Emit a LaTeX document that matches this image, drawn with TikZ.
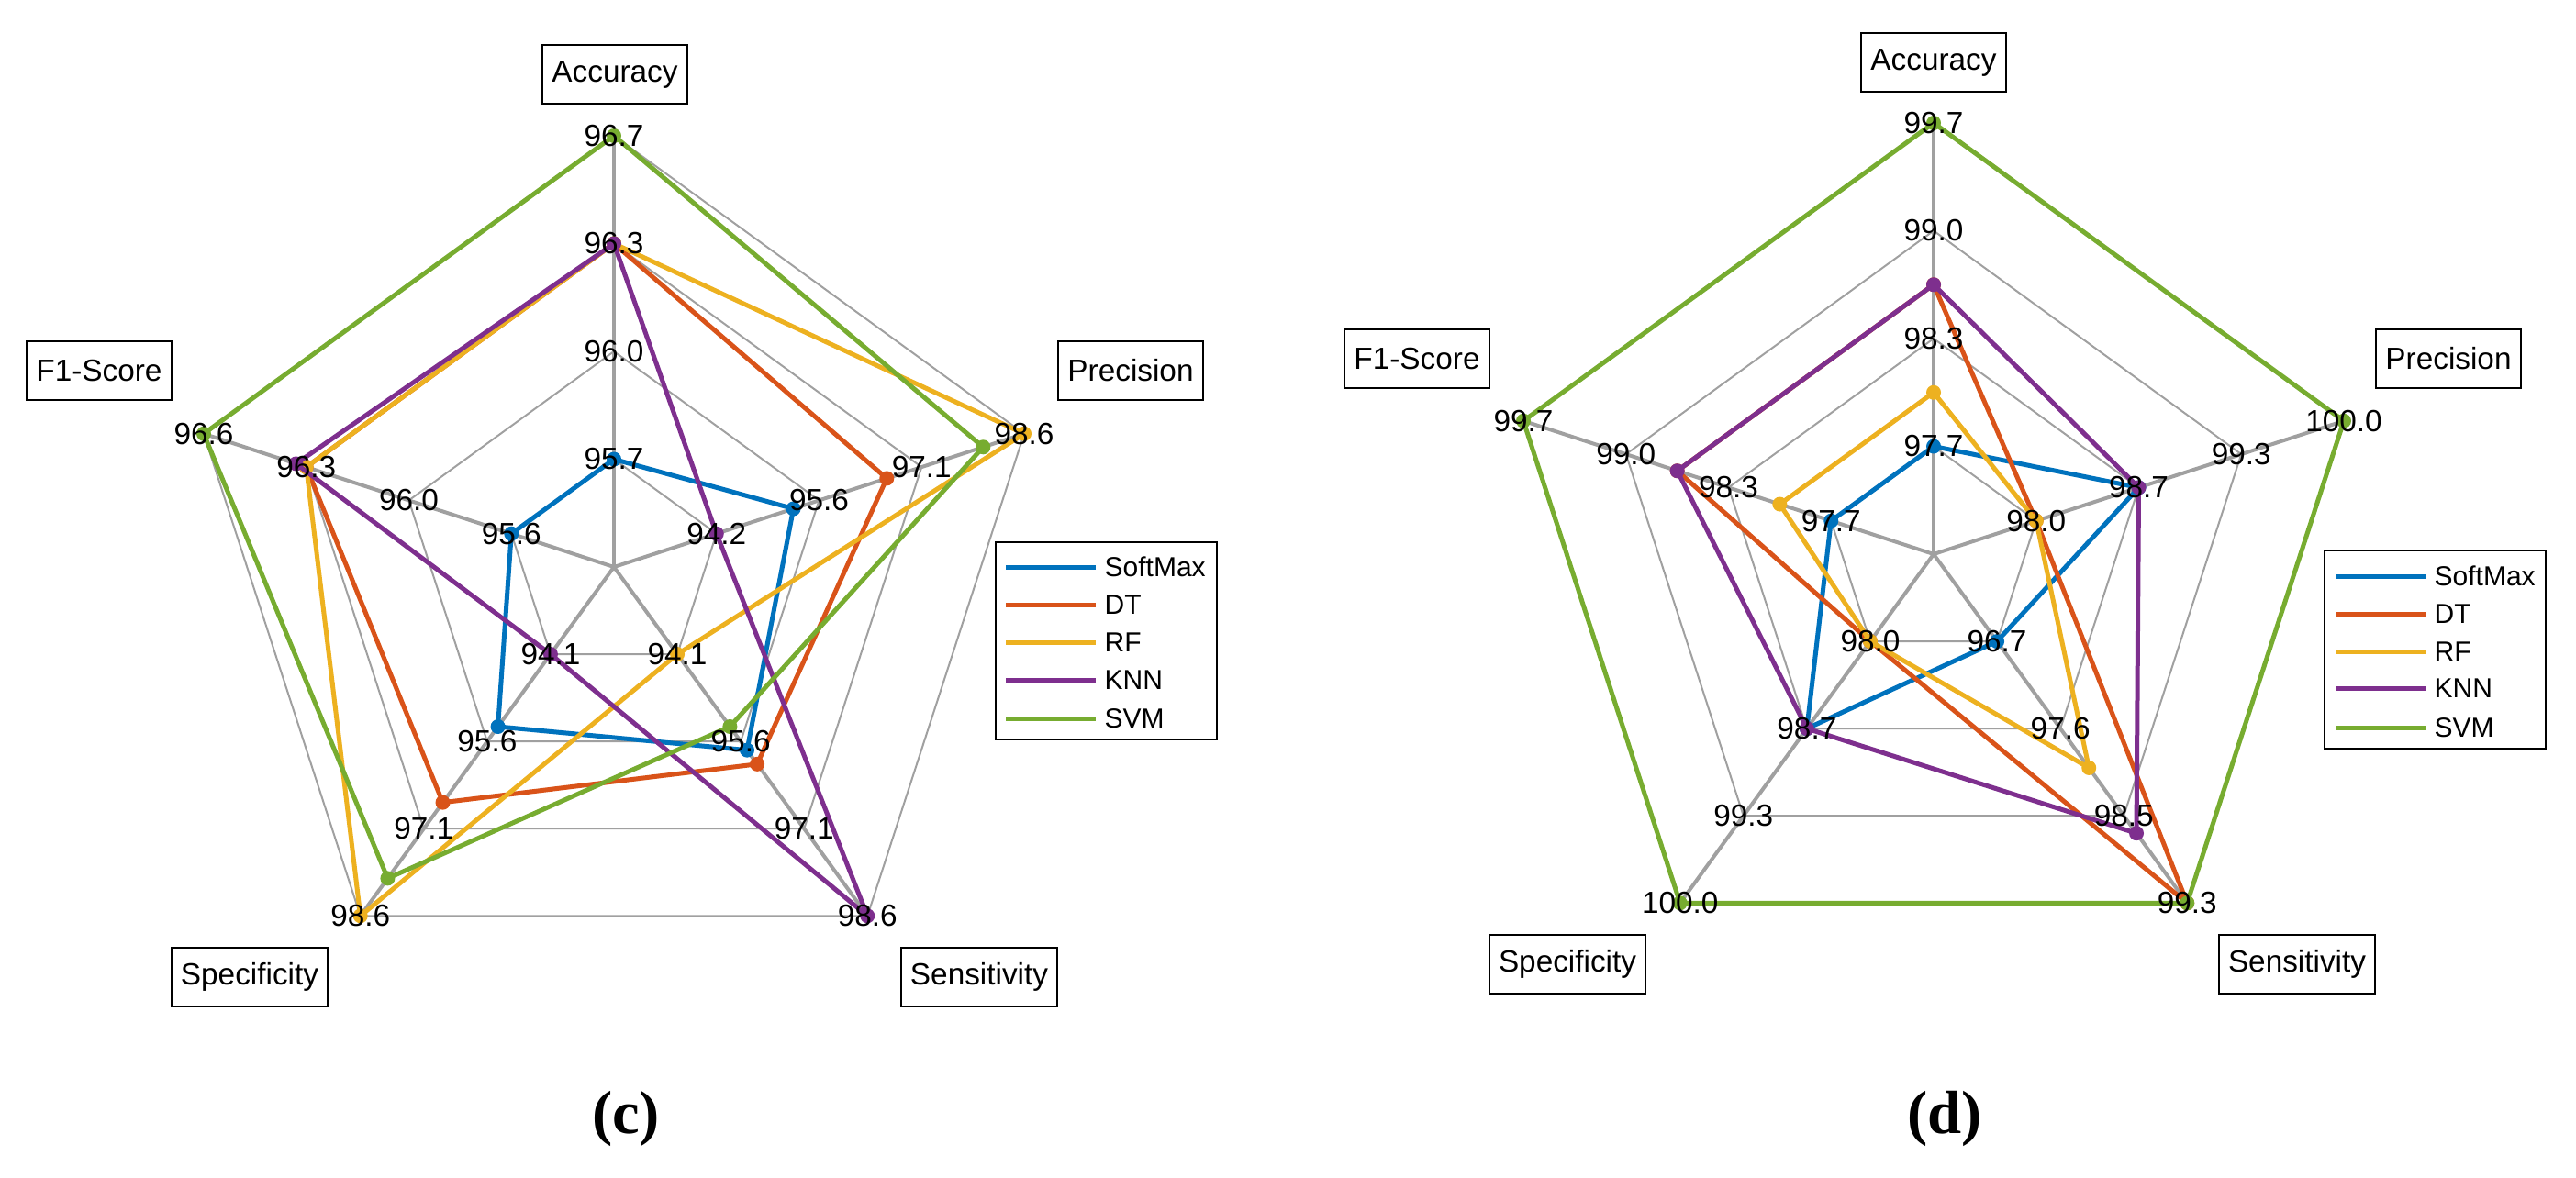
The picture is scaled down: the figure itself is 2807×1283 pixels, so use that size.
\documentclass[tikz,border=0pt]{standalone}
\usepackage{fontspec}
\setmainfont{Liberation Sans}
\newfontfamily\capfont{Liberation Serif}
\definecolor{cSM}{HTML}{0072BD}
\definecolor{cDT}{HTML}{D95319}
\definecolor{cRF}{HTML}{EDB120}
\definecolor{cKNN}{HTML}{7E2F8E}
\definecolor{cSVM}{HTML}{77AC30}
\definecolor{grid}{HTML}{A0A0A0}
\begin{document}
\begin{tikzpicture}[x=0.3pt,y=-0.3pt,
  spoke/.style={grid,line width=1.2pt},
  ring/.style={grid,line width=0.6pt},
  series/.style={line width=1.5pt,line join=round},
  tick/.style={inner sep=0pt,font=\fontsize{10}{12}\selectfont},
  axlab/.style={draw,line width=0.6pt,inner xsep=3pt,minimum height=19pt,font=\fontsize{10}{12}\selectfont},
  legtxt/.style={anchor=west,inner sep=0pt,font=\fontsize{9}{11}\selectfont},
  captext/.style={font=\capfont\bfseries\fontsize{20}{24}\selectfont}]
\useasboundingbox (0,0) rectangle (2807,1283);

% ---------- chart (c) ----------
\coordinate (Lc) at (669,618);
\foreach \i in {0,...,4}{
  \foreach \l in {1,...,4}{
    \coordinate (LA\i\l) at ({669+\l*117.5*cos(90-72*\i)},{618-\l*117.5*sin(90-72*\i)});
  }
}
\foreach \l in {1,...,4}{
  \draw[ring] (LA0\l)--(LA1\l)--(LA2\l)--(LA3\l)--(LA4\l)--cycle;
}
\foreach \i in {0,...,4}{\draw[spoke] (Lc)--(LA\i4);}
\foreach \s/\va/\vb/\vc/\vd/\ve/\col in {
  sm/1/1.75/2.1/1.83/1/cSM, dt/3/2.66/2.26/2.7/3/cDT, rf/3/4/1/4/3/cRF,
  knn/3/1/4/1/3.1/cKNN, svm/4/3.6/1.83/3.57/4/cSVM}{
  \foreach[count=\i from 0] \v in {\va,\vb,\vc,\vd,\ve}{
    \coordinate (L\s\i) at ({669+\v*117.5*cos(90-72*\i)},{618-\v*117.5*sin(90-72*\i)});
  }
  \draw[series,\col] (L\s0)--(L\s1)--(L\s2)--(L\s3)--(L\s4)--cycle;
  \foreach \i in {0,...,4}{\fill[\col] (L\s\i) circle (2.4pt);}
}
\foreach \i/\a/\b/\c/\d in {0/95.7/96.0/96.3/96.7, 1/94.2/95.6/97.1/98.6,
  2/94.1/95.6/97.1/98.6, 3/94.1/95.6/97.1/98.6, 4/95.6/96.0/96.3/96.6}{
  \node[tick] (LT\i1) at (LA\i1) {\a};
  \node[tick] (LT\i2) at (LA\i2) {\b};
  \node[tick] (LT\i3) at (LA\i3) {\c};
  \node[tick] (LT\i4) at (LA\i4) {\d};
}
\node[axlab] (Lacc) at (670,81) {Accuracy};
\node[axlab] (Lprec) at (1232,404) {Precision};
\node[axlab] (Lsens) at (1067,1065) {Sensitivity};
\node[axlab] (Lspec) at (272,1065) {Specificity};
\node[axlab] (Lf1) at (108,404) {F1-Score};
\draw[line width=0.6pt] (1085,591) rectangle (1326,806);
\foreach \y/\t/\col [count=\k] in {618/SoftMax/cSM,659/DT/cDT,700/RF/cRF,741/KNN/cKNN,783/SVM/cSVM}{
  \coordinate (Lg\k a) at (1096,\y); \coordinate (Lg\k b) at (1194,\y);
  \draw[series,\col] (Lg\k a)--(Lg\k b);
  \node[legtxt] (Lgt\k) at (1203,\y) {\t};
}
\node[captext] (capc) at (682,1219) {(c)};

% ---------- chart (d) ----------
\coordinate (Rc) at (2107,604);
\foreach \i in {0,...,4}{
  \foreach \l in {1,...,4}{
    \coordinate (RA\i\l) at ({2107+\l*117.5*cos(90-72*\i)},{604-\l*117.5*sin(90-72*\i)});
  }
}
\foreach \l in {1,...,4}{
  \draw[ring] (RA0\l)--(RA1\l)--(RA2\l)--(RA3\l)--(RA4\l)--cycle;
}
\foreach \i in {0,...,4}{\draw[spoke] (Rc)--(RA\i4);}
\foreach \s/\va/\vb/\vc/\vd/\ve/\col in {
  sm/1/2/1/2/1/cSM, dt/2.5/1/4/1/2.5/cDT, rf/1.5/1/2.45/1/1.5/cRF,
  knn/2.5/2/3.2/2/2.5/cKNN, svm/4/4/4/4/4/cSVM}{
  \foreach[count=\i from 0] \v in {\va,\vb,\vc,\vd,\ve}{
    \coordinate (R\s\i) at ({2107+\v*117.5*cos(90-72*\i)},{604-\v*117.5*sin(90-72*\i)});
  }
  \draw[series,\col] (R\s0)--(R\s1)--(R\s2)--(R\s3)--(R\s4)--cycle;
  \foreach \i in {0,...,4}{\fill[\col] (R\s\i) circle (2.4pt);}
}
\foreach \i/\a/\b/\c/\d in {0/97.7/98.3/99.0/99.7, 1/98.0/98.7/99.3/100.0,
  2/96.7/97.6/98.5/99.3, 3/98.0/98.7/99.3/100.0, 4/97.7/98.3/99.0/99.7}{
  \node[tick] (RT\i1) at (RA\i1) {\a};
  \node[tick] (RT\i2) at (RA\i2) {\b};
  \node[tick] (RT\i3) at (RA\i3) {\c};
  \node[tick] (RT\i4) at (RA\i4) {\d};
}
\node[axlab] (Racc) at (2107,68) {Accuracy};
\node[axlab] (Rprec) at (2668,391) {Precision};
\node[axlab] (Rsens) at (2503,1051) {Sensitivity};
\node[axlab] (Rspec) at (1708,1051) {Specificity};
\node[axlab] (Rf1) at (1544,391) {F1-Score};
\draw[line width=0.6pt] (2533,600) rectangle (2774,816);
\foreach \y/\t/\col [count=\k] in {628/SoftMax/cSM,669/DT/cDT,710/RF/cRF,750/KNN/cKNN,793/SVM/cSVM}{
  \coordinate (Rg\k a) at (2545,\y); \coordinate (Rg\k b) at (2644,\y);
  \draw[series,\col] (Rg\k a)--(Rg\k b);
  \node[legtxt] (Rgt\k) at (2652,\y) {\t};
}
\node[captext] (capd) at (2119,1219) {(d)};
\end{tikzpicture}
\end{document}
